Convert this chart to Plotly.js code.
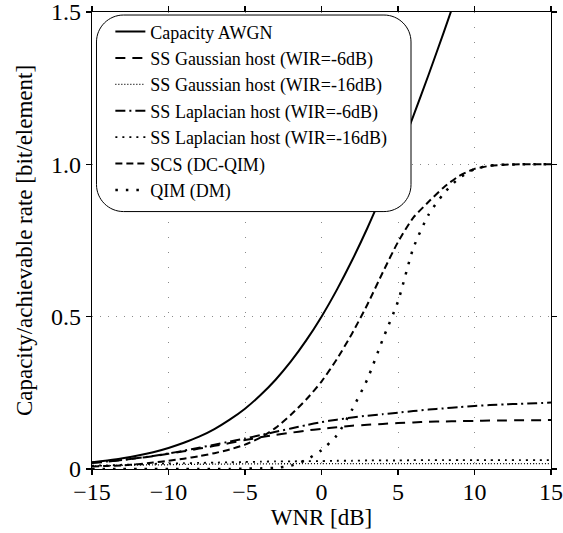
<!DOCTYPE html>
<html>
<head>
<meta charset="utf-8">
<script src="https://cdn.plot.ly/plotly-3.0.1.min.js"></script>
<style>
html,body{margin:0;padding:0;background:#fff;}
#chart{width:563px;height:533px;}
</style>
</head>
<body>
<div id="chart"></div>
<script>
// WNR axis values [dB]
const wnr = [-15,-14,-13,-12,-11,-10,-9,-8,-7,-6,-5,-4,-3,-2,-1,0,1,2,3,4,5,6,7,8,9,10,11,12,13,14,15];

const capacityAWGN = [0.022,0.028,0.035,0.044,0.055,0.069,0.086,0.106,0.131,0.162,0.198,0.242,0.293,0.353,0.422,0.500,0.588,0.685,0.791,0.906,1.029,1.158,1.294,1.435,1.580,1.730,null,null,null,null,null];

const ssGauss6 = [0.020,0.024,0.030,0.036,0.042,0.050,0.058,0.067,0.076,0.085,0.095,0.104,0.112,0.119,0.126,0.132,0.137,0.142,0.145,0.148,0.151,0.153,0.155,0.156,0.157,0.158,0.159,0.159,0.160,0.160,0.161];

const ssGauss16 = [0.010,0.011,0.012,0.013,0.0135,0.014,0.015,0.0155,0.016,0.0163,0.0166,0.0169,0.0171,0.0173,0.0174,0.0175,0.0176,0.0176,0.0177,0.0177,0.0177,0.0178,0.0178,0.0178,0.0178,0.0178,0.0178,0.0178,0.0178,0.0178,0.0178];

const ssLap6 = [0.021,0.025,0.030,0.036,0.043,0.051,0.060,0.070,0.080,0.090,0.100,0.111,0.122,0.133,0.144,0.154,0.162,0.169,0.175,0.180,0.185,0.190,0.195,0.199,0.203,0.207,0.210,0.212,0.214,0.216,0.218];

const ssLap16 = [0.011,0.012,0.014,0.015,0.017,0.018,0.019,0.020,0.021,0.022,0.023,0.024,0.025,0.025,0.026,0.026,0.027,0.027,0.028,0.028,0.028,0.029,0.029,0.029,0.029,0.029,0.029,0.029,0.029,0.029,0.029];

const scsDCQIM = [0.008,0.010,0.012,0.016,0.021,0.027,0.034,0.042,0.052,0.064,0.080,0.103,0.135,0.178,0.228,0.287,0.360,0.445,0.540,0.645,0.745,0.825,0.877,0.925,0.962,0.985,0.995,0.999,1.0,1.0,1.0];

const qimDM = [0,0,0,0,0,0,0,0,0,0,0.001,0.002,0.004,0.011,0.030,0.062,0.110,0.195,0.295,0.425,0.550,0.725,0.835,0.905,0.955,0.984,0.996,0.999,1.0,1.0,1.0];

const seriesNames = [
  'Capacity AWGN',
  'SS Gaussian host (WIR=-6dB)',
  'SS Gaussian host (WIR=-16dB)',
  'SS Laplacian host (WIR=-6dB)',
  'SS Laplacian host (WIR=-16dB)',
  'SCS (DC-QIM)',
  'QIM (DM)'
];

const xTicks = [-15,-10,-5,0,5,10,15];
const yTicks = [0,0.5,1.0,1.5];
const yTickText = ['0','0.5','1.0','1.5'];

const serif = '"Liberation Serif", serif';

function tr(y, name, dash, width){
  return {x: wnr, y: y, name: name, type:'scatter', mode:'lines',
    line:{color:'#000', width:width, dash:dash, shape:'spline', smoothing:0.6},
    connectgaps:false, hoverinfo:'skip'};
}

const data = [
  tr(capacityAWGN, seriesNames[0], 'solid', 2),
  tr(ssGauss6, seriesNames[1], '10px,7px', 2),
  tr(ssGauss16, seriesNames[2], '1px,2px', 1.3),
  tr(ssLap6, seriesNames[3], '10px,4px,2px,4px', 2),
  tr(ssLap16, seriesNames[4], '2px,5px', 1.8),
  tr(scsDCQIM, seriesNames[5], '7px,4px', 2),
  tr(qimDM, seriesNames[6], '2.5px,8px', 2.5)
];

// rounded legend frame (paper coordinates; plot area is square)
function roundRect(x0, y0, x1, y1, r){
  const c = r*(1 - 0.5523);
  return 'M' + (x0+r) + ',' + y1 +
    ' L' + (x1-r) + ',' + y1 +
    ' C' + (x1-c) + ',' + y1 + ' ' + x1 + ',' + (y1-c) + ' ' + x1 + ',' + (y1-r) +
    ' L' + x1 + ',' + (y0+r) +
    ' C' + x1 + ',' + (y0+c) + ' ' + (x1-c) + ',' + y0 + ' ' + (x1-r) + ',' + y0 +
    ' L' + (x0+r) + ',' + y0 +
    ' C' + (x0+c) + ',' + y0 + ' ' + x0 + ',' + (y0+c) + ' ' + x0 + ',' + (y0+r) +
    ' L' + x0 + ',' + (y1-r) +
    ' C' + x0 + ',' + (y1-c) + ' ' + (x0+c) + ',' + y1 + ' ' + (x0+r) + ',' + y1 + ' Z';
}

const axisCommon = {
  showline:true, linecolor:'#000', linewidth:1.3, mirror:'ticks',
  ticks:'outside', ticklen:5, tickwidth:1.2, tickcolor:'#000',
  showgrid:true, gridcolor:'#8a8a8a', gridwidth:1,
  zeroline:false, ticklabeloverflow:'allow',
  tickfont:{family:serif, size:24, color:'#000'}
};

const layout = {
  width:563, height:533,
  margin:{l:92, r:12, t:12, b:64, pad:0},
  paper_bgcolor:'#fff', plot_bgcolor:'#fff',
  font:{family:serif, color:'#000'},
  showlegend:true,
  xaxis: Object.assign({}, axisCommon, {
    range:[-15,15], tickmode:'array', tickvals:xTicks,
    griddash:'1px,14px', ticklabelstandoff:-4,
    title:{text:'WNR [dB]', font:{family:serif, size:23, color:'#000'}, standoff:0}
  }),
  yaxis: Object.assign({}, axisCommon, {
    range:[0,1.5], tickmode:'array', tickvals:yTicks, ticktext:yTickText,
    griddash:'1px,7px',
    title:{text:'Capacity/achievable rate [bit/element]', font:{family:serif, size:23, color:'#000'}, standoff:12}
  }),
  legend:{
    x:0.04, y:0.997, xanchor:'left', yanchor:'top',
    bgcolor:'rgba(0,0,0,0)', borderwidth:0,
    font:{family:serif, size:18, color:'#000'},
    itemwidth:30, tracegroupgap:0
  },
  shapes:[{
    type:'path', xref:'paper', yref:'paper', layer:'above',
    path: roundRect(0.0098, 0.5633, 0.695, 0.9934, 0.059),
    fillcolor:'#fff', line:{color:'#000', width:1}
  }]
};

Plotly.newPlot('chart', data, layout, {staticPlot:true, displayModeBar:false});
</script>
</body>
</html>
